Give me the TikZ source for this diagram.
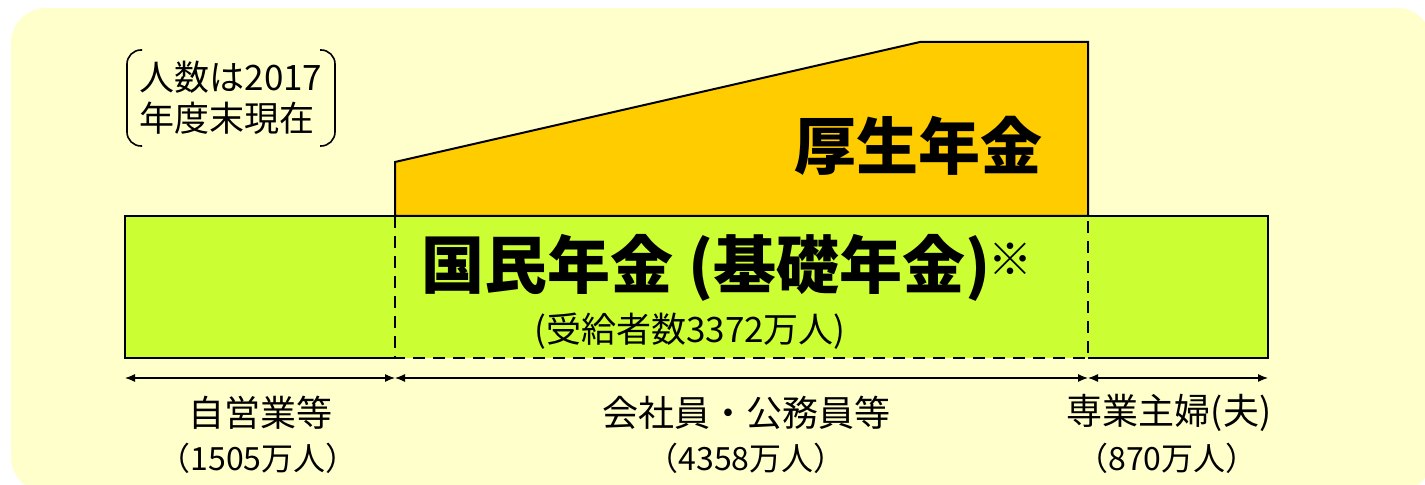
\documentclass[tikz,border=0pt]{standalone}
\usepackage{fontspec}
\newfontfamily\cjk{Noto Sans CJK JP}
\usetikzlibrary{arrows.meta}
\definecolor{bgyellow}{HTML}{FFFFCC}
\definecolor{pgreen}{HTML}{CCFF33}
\definecolor{porange}{HTML}{FFCC00}
\tikzset{
  border/.style={draw=black, line width=1pt},
  span/.style={draw=black, line width=0.6pt, {Latex[length=5pt,width=4pt]}-{Latex[length=5pt,width=4pt]}},
  lbl/.style={font=\cjk\fontsize{18}{18}\selectfont, inner sep=0pt},
  num/.style={font=\cjk\fontsize{16}{16}\selectfont, inner sep=0pt},
  big/.style={font=\cjk\bfseries\fontsize{31.5}{31.5}\selectfont, inner sep=0pt},
  note/.style={font=\cjk\fontsize{17.5}{21}\selectfont, inner sep=0pt, align=left}
}
\begin{document}
\begin{tikzpicture}[x=0.5pt,y=-0.5pt]
\useasboundingbox (0,0) rectangle (1425,485);
% background
\fill[bgyellow, rounded corners=17.5pt] (11,8) rectangle (1432,492);
% green basic pension band
\fill[pgreen] (125,216) rectangle (1268,358);
% orange employee pension
\path[fill=porange, border] (395,216) coordinate (oBL) -- (395,162) coordinate (oTL) -- (920,42) coordinate (oBend) -- (1088,42) coordinate (oTR) -- (1088,216) coordinate (oBR) -- cycle;
% green borders
\draw[border] (395,358) -- (125,358) -- (125,216) -- (1268,216) -- (1268,358) -- (1088,358);
\draw[border, dashed, dash pattern=on 6pt off 4pt] (395,216) rectangle (1088,358);
% texts in bands
\node[big, font=\cjk\bfseries\fontsize{31}{31}\selectfont] (kosei) at (918,146) {厚生年金};
\node[big] (kokumin) at (727,268) {国民年金 (基礎年金)\kern-1pt\raisebox{0.2em}{\fontsize{22}{22}\selectfont ※}};
\node[font=\cjk\fontsize{17.5}{17.5}\selectfont, inner sep=0pt] (juky) at (690,331) {(受給者数3372万人)};
% note with bracket pair
\node[note] (noteA) at (231,98) {人数は2017\\[-0.5pt]年度末現在};
\draw[line width=0.8pt, rounded corners=7pt] (142,50) -- (127,50) -- (127,146) -- (142,146);
\draw[line width=0.8pt, rounded corners=7pt] (320,50) -- (335,50) -- (335,146) -- (320,146);
% spans
\coordinate (s0) at (125,378);
\coordinate (s1) at (395,378);
\coordinate (s2) at (1088,378);
\coordinate (s3) at (1268,378);
\draw[span] (s0) -- (s1);
\draw[span] (s1) -- (s2);
\draw[span] (s2) -- (s3);
% labels
\node[lbl] (l1) at (260,413) {自営業等};
\node[num] (n1) at (258,458) {（1505万人）};
\node[lbl] (l2) at (746,413) {会社員・公務員等};
\node[num] (n2) at (746,458) {（4358万人）};
\node[lbl] (l3) at (1169,413) {専業主婦(夫)};
\node[num] (n3) at (1167,458) {（870万人）};
\end{tikzpicture}
\end{document}
